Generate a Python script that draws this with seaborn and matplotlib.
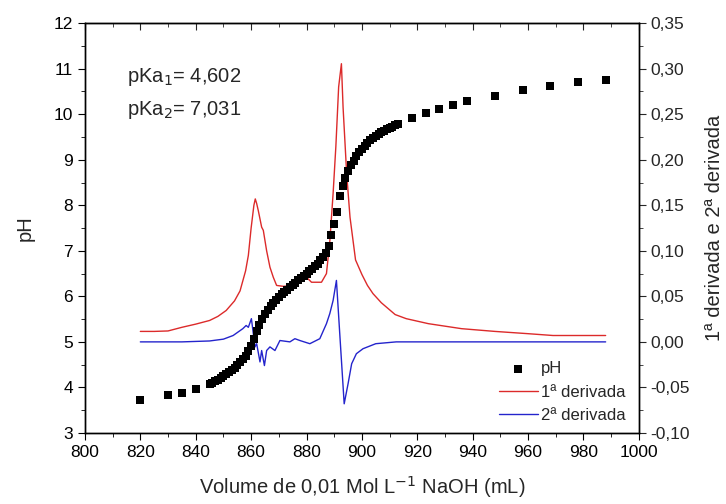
import numpy as np
import pandas as pd
import matplotlib
matplotlib.use("Agg")
import matplotlib.pyplot as plt
from matplotlib.ticker import MultipleLocator, FuncFormatter
import seaborn as sns

# titration points (volume mL, pH)
volume = [820, 830, 835, 840,
          845, 846, 847, 848, 849, 850, 851, 852, 853, 854, 855, 856, 857, 858, 859,
          860, 861, 862, 863, 864, 865, 866, 867, 868, 869, 870, 871, 872, 873, 874,
          875, 876, 877, 878, 879, 880, 881, 882, 883, 884, 885, 886, 887, 888, 889,
          890, 891, 892, 893, 894, 895, 896, 897, 898, 899, 900, 901, 902, 903, 904,
          905, 906, 907, 908, 909, 910, 911, 912, 913,
          918, 923, 928, 933, 938, 948, 958, 968, 978, 988]
ph = [3.72, 3.83, 3.88, 3.97,
      4.07, 4.10, 4.13, 4.17, 4.21, 4.25, 4.29, 4.33, 4.38, 4.43, 4.49, 4.55, 4.62, 4.70, 4.80,
      4.92, 5.07, 5.23, 5.38, 5.50, 5.62, 5.71, 5.79, 5.86, 5.93, 5.99, 6.05, 6.10, 6.15, 6.20,
      6.25, 6.30, 6.35, 6.40, 6.45, 6.50, 6.55, 6.60, 6.66, 6.72, 6.79, 6.87, 6.96, 7.10, 7.35,
      7.60, 7.85, 8.20, 8.42, 8.60, 8.75, 8.88, 8.98, 9.08, 9.17, 9.24, 9.31, 9.37, 9.43, 9.48,
      9.53, 9.57, 9.61, 9.64, 9.67, 9.70, 9.73, 9.76, 9.78,
      9.92, 10.03, 10.11, 10.20, 10.28, 10.40, 10.53, 10.62, 10.70, 10.76]

# first derivative
d1_volume = [820, 825, 830, 835, 840, 845, 848, 851, 854, 856, 858, 859, 860, 861, 861.5,
             862, 862.6, 863.8, 864.4, 865.6, 866.8, 868, 869.2, 871.6, 875.2, 878.2, 880,
             881.8, 885.4, 887.2, 888.4, 889.6, 890.6, 891.6, 892.6, 893.2, 894.5, 895.7,
             897.7, 900, 902, 904, 907, 912, 916, 924, 936, 948, 960, 969, 988]
d1 = [0.0115, 0.0115, 0.012, 0.016, 0.0195, 0.0235, 0.028, 0.0345, 0.045, 0.056, 0.078,
      0.095, 0.125, 0.150, 0.157, 0.152, 0.144, 0.126, 0.1225, 0.100, 0.082, 0.071, 0.062,
      0.061, 0.062, 0.0695, 0.071, 0.0655, 0.0655, 0.075, 0.110, 0.163, 0.215, 0.280, 0.3055,
      0.2575, 0.1845, 0.137, 0.090, 0.074, 0.062, 0.053, 0.043, 0.030, 0.0255, 0.020, 0.0145,
      0.0115, 0.009, 0.007, 0.007]

# second derivative
d2_volume = [820, 835, 845, 850, 853.5, 857, 858.2, 859, 860.1, 861.4, 862, 863.2, 863.8,
             864.8, 865.6, 866.8, 868.6, 870.4, 874, 875.8, 877.6, 881.2, 884.8, 887.2,
             888.4, 889.6, 890.8, 892, 893.6, 895, 896.3, 898, 900.4, 905, 912.4, 930, 988]
d2 = [0.0, 0.0, 0.001, 0.003, 0.007, 0.0145, 0.018, 0.016, 0.0255, -0.0055, -0.002,
      -0.022, -0.0095, -0.026, -0.0095, -0.0055, -0.0095, 0.0015, 0.0, 0.0035, 0.0015,
      -0.002, 0.0035, 0.020, 0.031, 0.0455, 0.0675, 0.009, -0.068, -0.046, -0.024, -0.013,
      -0.0075, -0.002, 0.0, 0.0, 0.0]

ph_df = pd.DataFrame({"volume": volume, "pH": ph})
d1_df = pd.DataFrame({"volume": d1_volume, "value": d1})
d2_df = pd.DataFrame({"volume": d2_volume, "value": d2})

sns.set_style("ticks")
plt.rcParams["font.family"] = ["Liberation Sans", "DejaVu Sans"]

RED = "#dc2a2a"
BLUE = "#2424cc"
TICK_FS = 12.5
LABEL_FS = 14.5

fig, ax = plt.subplots(figsize=(7.26, 5.04), dpi=100)
fig.subplots_adjust(left=0.117, right=0.880, top=0.954, bottom=0.141)
ax2 = ax.twinx()

sns.lineplot(data=d1_df, x="volume", y="value", ax=ax2, color=RED, lw=1.0,
             label="1ª derivada", legend=False)
sns.lineplot(data=d2_df, x="volume", y="value", ax=ax2, color=BLUE, lw=1.0,
             label="2ª derivada", legend=False)
sns.scatterplot(data=ph_df, x="volume", y="pH", ax=ax, marker="s", color="black",
                s=30, edgecolor="black", linewidth=0, label="pH", legend=False, zorder=5)

ax.set_zorder(ax2.get_zorder() + 1)
ax.patch.set_visible(False)

ax.set_xlim(800, 1000)
ax.set_ylim(3, 12)
ax2.set_ylim(-0.10, 0.35)

ax.xaxis.set_major_locator(MultipleLocator(20))
ax.xaxis.set_minor_locator(MultipleLocator(10))
ax.yaxis.set_major_locator(MultipleLocator(1))
ax.yaxis.set_minor_locator(MultipleLocator(0.5))
ax2.yaxis.set_major_locator(MultipleLocator(0.05))
ax2.yaxis.set_minor_locator(MultipleLocator(0.025))
ax2.yaxis.set_major_formatter(FuncFormatter(lambda v, p: f"{v:.2f}".replace(".", ",").replace("-0,00", "0,00")))

for a in (ax, ax2):
    for sp in a.spines.values():
        sp.set_visible(True)
        sp.set_linewidth(1.0)
        sp.set_color("black")

ax.tick_params(axis="both", which="both", direction="out", labelsize=TICK_FS, colors="black")
ax.tick_params(axis="both", which="major", length=5)
ax.tick_params(axis="both", which="minor", length=3)
ax2.tick_params(axis="y", which="major", direction="out", length=5, labelsize=TICK_FS)
ax2.tick_params(axis="y", which="minor", direction="out", length=3)

# top axis: inward ticks, no labels
top = ax.secondary_xaxis("top")
top.xaxis.set_major_locator(MultipleLocator(20))
top.xaxis.set_minor_locator(MultipleLocator(10))
top.tick_params(axis="x", which="both", direction="in", labeltop=False)
top.tick_params(axis="x", which="major", length=5)
top.tick_params(axis="x", which="minor", length=3)

ax.set_xlabel("Volume de 0,01 Mol L$^{-1}$ NaOH (mL)", fontsize=LABEL_FS, labelpad=10)
ax.set_ylabel("pH", fontsize=LABEL_FS, labelpad=14)
ax2.set_ylabel("1ª derivada e 2ª derivada", fontsize=LABEL_FS, labelpad=11)

ax.text(0.076, 0.868, "pKa$_1$= 4,602", transform=ax.transAxes, fontsize=14.5, va="center")
ax.text(0.076, 0.788, "pKa$_2$= 7,031", transform=ax.transAxes, fontsize=14.5, va="center")

h1, l1 = ax.get_legend_handles_labels()
h2, l2 = ax2.get_legend_handles_labels()
ax.legend(h1 + h2, l1 + l2, loc="lower right", bbox_to_anchor=(1.003, -0.012),
          frameon=False, fontsize=12, handlelength=2.3, labelspacing=0.5,
          handletextpad=0.2)

fig.savefig("out.png", dpi=100)
